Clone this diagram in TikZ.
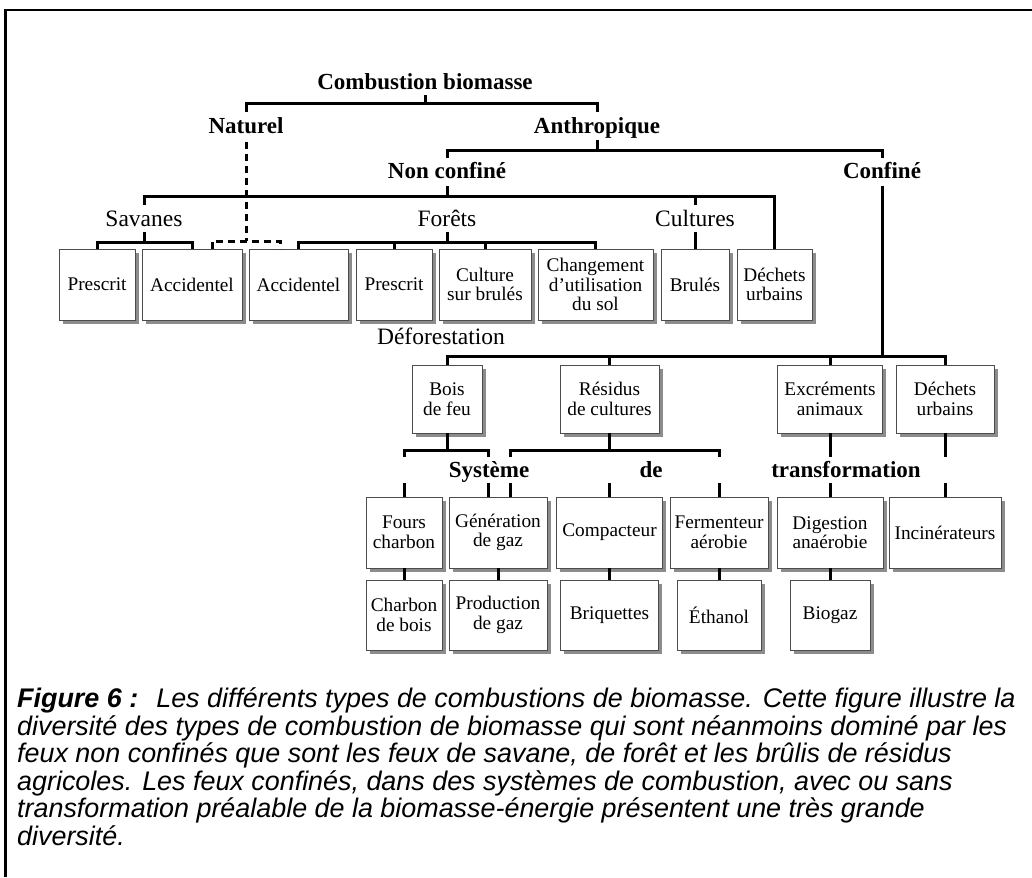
\documentclass[tikz,border=0pt]{standalone}
\usepackage{fontspec}
\setmainfont{Liberation Serif}
\newfontfamily\capfont{Liberation Sans}
\usetikzlibrary{shadows}
\begin{document}
\begin{tikzpicture}[x=1pt,y=-1pt,
  conn/.style={line width=3pt},
  dconn/.style={line width=3pt, dash pattern=on 7pt off 5pt},
  head/.style={font=\fontsize{23}{26}\selectfont\bfseries, inner sep=0pt, anchor=base},
  lab/.style={font=\fontsize{23.5}{26}\selectfont, inner sep=0pt, anchor=base},
  box/.style={draw=black!70, line width=0.9pt, fill=white, inner sep=0pt, align=center,
    font=\fontsize{19.3}{19.5}\selectfont,
    drop shadow={shadow xshift=3.5pt, shadow yshift=-3.5pt, fill=black!45, opacity=1}},
  captxt/.style={font=\capfont\itshape\fontsize{26.9}{27.5}\selectfont, inner sep=0pt, anchor=base west},
]
\useasboundingbox (0,0) rectangle (1032,877);
% frame
\draw[line width=2.8pt] (5.5,877) -- (5.5,10) -- (1032,10);

% headings
\node[head] (t0) at (425,89.5) {Combustion biomasse};
\node[head] (nat) at (246,134) {Naturel};
\node[head] (ant) at (597,134) {Anthropique};
\node[head] (nc) at (447,179) {Non confiné};
\node[head] (cf) at (882,179) {Confiné};
\node[lab] (sav) at (144,226) {Savanes};
\node[lab] (fore) at (447,226) {Forêts};
\node[lab] (cul) at (695,226) {Cultures};
\node[lab] (def) at (441,344) {Déforestation};
\node[head] (sys) at (489,477) {Système};
\node[head] (sde) at (651,477) {de};
\node[head] (str) at (846,477) {transformation};

% row 1
\begin{scope}[every node/.style={box, minimum height=71pt}]
\node[minimum width=76pt] (b1) at (97,284.5) {Prescrit};
\node[minimum width=100pt] (b2) at (192,284.5) {Accidentel};
\node[minimum width=99pt] (b3) at (298.5,284.5) {Accidentel};
\node[minimum width=76pt] (b4) at (394,284.5) {Prescrit};
\node[minimum width=92pt] (b5) at (485,284.5) {Culture\\sur brulés};
\node[minimum width=115pt] (b6) at (595.5,284.5) {Changement\\d’utilisation\\du sol};
\node[minimum width=68pt] (b7) at (695,284.5) {Brulés};
\node[minimum width=75pt] (b8) at (774.5,284.5) {Déchets\\urbains};
\end{scope}
% row 2
\begin{scope}[every node/.style={box, minimum height=68pt}]
\node[minimum width=70pt] (c1) at (447,399) {Bois\\de feu};
\node[minimum width=99pt] (c2) at (609.5,399) {Résidus\\de cultures};
\node[minimum width=105pt] (c3) at (830,399) {Excréments\\animaux};
\node[minimum width=98pt] (c4) at (945,399) {Déchets\\urbains};
\end{scope}
% row 3
\begin{scope}[every node/.style={box, minimum height=71pt}]
\node[minimum width=76pt] (d1) at (404,532.5) {Fours\\charbon};
\node[minimum width=98pt] (d2) at (498,532.5) {Génération\\de gaz};
\node[minimum width=106pt] (d3) at (609.5,532.5) {Compacteur};
\node[minimum width=98pt] (d4) at (719,532.5) {Fermenteur\\aérobie};
\node[minimum width=106pt] (d5) at (830,532.5) {Digestion\\anaérobie};
\node[minimum width=112pt] (d6) at (945,532.5) {Incinérateurs};
\end{scope}
% row 4
\begin{scope}[every node/.style={box, minimum height=70pt}]
\node[minimum width=76pt] (e1) at (404,615) {Charbon\\de bois};
\node[minimum width=98pt] (e2) at (498,615) {Production\\de gaz};
\node[minimum width=98pt] (e3) at (609.5,615) {Briquettes};
\node[minimum width=84pt] (e4) at (719,615) {Éthanol};
\node[minimum width=80pt] (e5) at (830,615) {Biogaz};
\end{scope}

% named coordinates for off-centre ends
\coordinate (dl) at (212,249);
\coordinate (dr) at (280,249);
\coordinate (g1) at (488,497);
\coordinate (g2) at (510,497);

% connectors top
\draw[conn] (t0 |- 0,95) -- (t0 |- 0,104);
\draw[conn] (nat |- 0,112) -- (nat |- 0,104) -- (ant |- 0,104) -- (ant |- 0,112);
\draw[conn] (ant |- 0,140) -- (ant |- 0,151);
\draw[conn] (nc |- 0,158) -- (nc |- 0,151) -- (cf |- 0,151) -- (cf |- 0,158);
\draw[dconn] (nat |- 0,142) -- (nat |- 0,241);
\draw[dconn] (dl) -- (dl |- 0,241) -- (dr |- 0,241) -- (dr);
\draw[conn] (nc |- 0,186) -- (nc |- 0,197);
\draw[conn] (sav |- 0,205) -- (sav |- 0,197) -- (b8.north |- 0,197) -- (b8.north);
\draw[conn] (cul |- 0,197) -- (cul |- 0,205);
\draw[conn] (sav |- 0,232) -- (sav |- 0,242);
\draw[conn] (b1.north) -- (b1.north |- 0,242) -- (b2.north |- 0,242) -- (b2.north);
\draw[conn] (fore |- 0,232) -- (fore |- 0,242);
\draw[conn] (b3.north) -- (b3.north |- 0,242) -- (b6.north |- 0,242) -- (b6.north);
\draw[conn] (b4.north) -- (b4.north |- 0,242);
\draw[conn] (b5.north) -- (b5.north |- 0,242);
\draw[conn] (cul |- 0,232) -- (b7.north);
% confiné
\draw[conn] (cf |- 0,186) -- (cf |- 0,356);
\draw[conn] (c1.north) -- (c1.north |- 0,356) -- (c4.north |- 0,356) -- (c4.north);
\draw[conn] (c2.north) -- (c2.north |- 0,356);
\draw[conn] (c3.north) -- (c3.north |- 0,356);
% row 2 to row 3
\draw[conn] (c1.south) -- (c1.south |- 0,450);
\draw[conn] (d1.north |- 0,457) -- (d1.north |- 0,450) -- (g1 |- 0,450) -- (g1 |- 0,457);
\draw[conn] (c2.south) -- (c2.south |- 0,450);
\draw[conn] (g2 |- 0,457) -- (g2 |- 0,450) -- (d4.north |- 0,450) -- (d4.north |- 0,457);
\draw[conn] (c3.south) -- (c3.south |- 0,457);
\draw[conn] (c4.south) -- (c4.south |- 0,457);
\draw[conn] (d1.north |- 0,483) -- (d1.north);
\draw[conn] (g1 |- 0,483) -- (g1);
\draw[conn] (g2 |- 0,483) -- (g2);
\draw[conn] (d3.north |- 0,483) -- (d3.north);
\draw[conn] (d4.north |- 0,483) -- (d4.north);
\draw[conn] (d5.north |- 0,483) -- (d5.north);
\draw[conn] (d6.north |- 0,483) -- (d6.north);
% row 3 to row 4
\draw[conn] (d1.south) -- (e1.north);
\draw[conn] (d2.south) -- (e2.north);
\draw[conn] (d3.south) -- (e3.north);
\draw[conn] (d4.south) -- (e4.north);
\draw[conn] (d5.south) -- (e5.north);

% caption
\node[captxt] (l1) at (17,707.5) {{\bfseries Figure 6 :}\hspace{0.3em} Les différents types de combustions de biomasse. Cette figure illustre la};
\node[captxt] (l2) at (17,735) {diversité des types de combustion de biomasse qui sont néanmoins dominé par les};
\node[captxt] (l3) at (17,762.5) {feux non confinés que sont les feux de savane, de forêt et les brûlis de résidus};
\node[captxt] (l4) at (17,790) {agricoles. Les feux confinés, dans des systèmes de combustion, avec ou sans};
\node[captxt] (l5) at (17,817.5) {transformation préalable de la biomasse-énergie présentent une très grande};
\node[captxt] (l6) at (17,845) {diversité.};
\end{tikzpicture}
\end{document}
